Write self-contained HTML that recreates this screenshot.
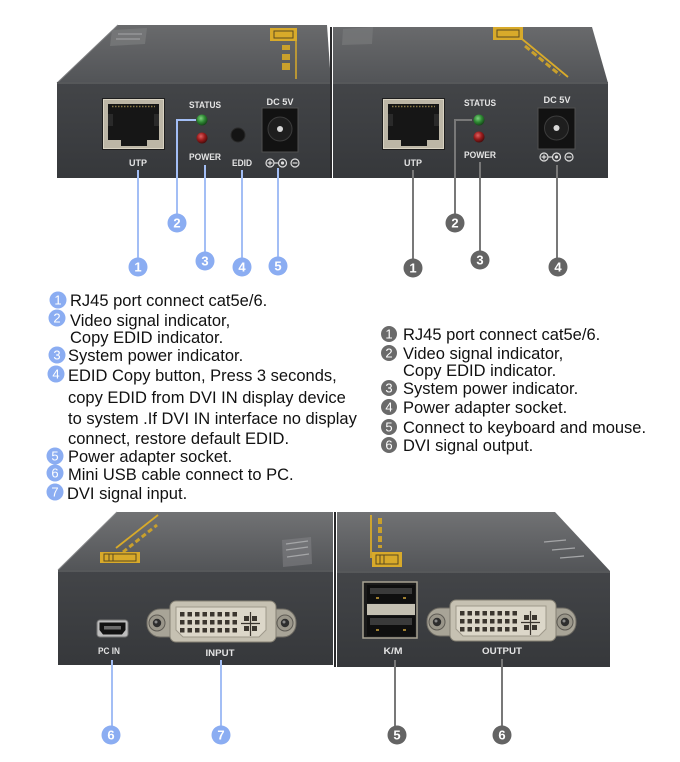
<!DOCTYPE html>
<html><head><meta charset="utf-8">
<style>
html,body{margin:0;padding:0;background:#fff;}
svg{display:block;}
.lbl{font-family:"Liberation Sans",Arial,sans-serif;font-weight:bold;fill:#e4e4e4;font-size:9px;text-anchor:middle;}
.num{font-family:"Liberation Sans",Arial,sans-serif;font-weight:bold;fill:#fff;font-size:13px;text-anchor:middle;}
.sn{font-family:"Liberation Sans",Arial,sans-serif;fill:#fff;font-size:13px;text-anchor:middle;}
.tx{font-family:"Liberation Sans",Arial,sans-serif;fill:#111;font-size:16.5px;}
</style></head>
<body>
<svg width="680" height="762" viewBox="0 0 680 762" xmlns="http://www.w3.org/2000/svg">
<defs>
<linearGradient id="topA" x1="0" y1="0" x2="0" y2="1"><stop offset="0" stop-color="#696a6c"/><stop offset="1" stop-color="#525457"/></linearGradient>
<linearGradient id="topB" x1="0" y1="0" x2="0" y2="1"><stop offset="0" stop-color="#717274"/><stop offset="1" stop-color="#535558"/></linearGradient>
<linearGradient id="front" x1="0" y1="0" x2="0" y2="1"><stop offset="0" stop-color="#434548"/><stop offset="1" stop-color="#36383b"/></linearGradient>
<radialGradient id="gLed" cx="0.4" cy="0.35" r="0.7"><stop offset="0" stop-color="#7fd27f"/><stop offset="0.5" stop-color="#2f8a34"/><stop offset="1" stop-color="#123d15"/></radialGradient>
<radialGradient id="rLed" cx="0.4" cy="0.35" r="0.7"><stop offset="0" stop-color="#e06060"/><stop offset="0.5" stop-color="#9a1c1c"/><stop offset="1" stop-color="#3d0a0a"/></radialGradient>
<g id="dvi">
  <rect x="147" y="609" width="149" height="28" rx="13" fill="#a8a497" stroke="#6f6c64" stroke-width="1"/>
  <circle cx="157" cy="623" r="8" fill="#9a968a" stroke="#5e5b54"/>
  <circle cx="157" cy="623" r="4.2" fill="#2e2e2e"/>
  <circle cx="156" cy="622" r="1.5" fill="#888"/>
  <circle cx="285" cy="623" r="8" fill="#9a968a" stroke="#5e5b54"/>
  <circle cx="285" cy="623" r="4.2" fill="#2e2e2e"/>
  <circle cx="284" cy="622" r="1.5" fill="#888"/>
  <rect x="170" y="601" width="106" height="41" rx="6" fill="#c6c1b2" stroke="#858174"/>
  <path d="M176 607 H266 V630 L259 637 H183 L176 630 Z" fill="#dcd7c9" stroke="#9e998b"/>
  <g fill="#3b362f">
    <rect x="180" y="612" width="4.5" height="4.5"/><rect x="187.5" y="612" width="4.5" height="4.5"/><rect x="195" y="612" width="4.5" height="4.5"/><rect x="202.5" y="612" width="4.5" height="4.5"/><rect x="210" y="612" width="4.5" height="4.5"/><rect x="217.5" y="612" width="4.5" height="4.5"/><rect x="225" y="612" width="4.5" height="4.5"/><rect x="232.5" y="612" width="4.5" height="4.5"/>
    <rect x="180" y="620" width="4.5" height="4.5"/><rect x="187.5" y="620" width="4.5" height="4.5"/><rect x="195" y="620" width="4.5" height="4.5"/><rect x="202.5" y="620" width="4.5" height="4.5"/><rect x="210" y="620" width="4.5" height="4.5"/><rect x="217.5" y="620" width="4.5" height="4.5"/><rect x="225" y="620" width="4.5" height="4.5"/><rect x="232.5" y="620" width="4.5" height="4.5"/>
    <rect x="180" y="628" width="4.5" height="4.5"/><rect x="187.5" y="628" width="4.5" height="4.5"/><rect x="195" y="628" width="4.5" height="4.5"/><rect x="202.5" y="628" width="4.5" height="4.5"/><rect x="210" y="628" width="4.5" height="4.5"/><rect x="217.5" y="628" width="4.5" height="4.5"/><rect x="225" y="628" width="4.5" height="4.5"/><rect x="232.5" y="628" width="4.5" height="4.5"/>
    <rect x="244" y="616" width="5" height="5"/><rect x="252" y="616" width="5" height="5"/><rect x="244" y="626" width="5" height="5"/><rect x="252" y="626" width="5" height="5"/>
  </g>
  <path d="M250.5 612 V636 M241 623.5 H260" stroke="#3b362f" stroke-width="1.2"/>
</g>
<g id="rj45">
  <rect x="102" y="98" width="63" height="52" fill="#1e1e1e"/>
  <rect x="103.5" y="99.5" width="60" height="49" fill="#bcb6a6" stroke="#d9d3c3"/>
  <rect x="108" y="104" width="51" height="36" fill="#161616"/>
  <rect x="121" y="139" width="26" height="7" fill="#161616"/>
  <path d="M112 106.5 H155" stroke="#8a7a48" stroke-width="1.5" stroke-dasharray="1.5 1.5"/>
  <rect x="108" y="114" width="5" height="12" fill="#2a2a2a"/>
  <rect x="154" y="114" width="5" height="12" fill="#2a2a2a"/>
</g>
<g id="pol">
  <circle cx="0" cy="0" r="4" fill="none" stroke="#ddd" stroke-width="1.2"/>
  <path d="M-2.4 0 H2.4 M0 -2.4 V2.4" stroke="#ddd" stroke-width="1.2"/>
  <path d="M4 0 H9" stroke="#ddd" stroke-width="1.2"/>
  <circle cx="12.5" cy="0" r="4" fill="none" stroke="#ddd" stroke-width="1.2"/>
  <circle cx="12.5" cy="0" r="1.6" fill="#ddd"/>
  <circle cx="25" cy="0" r="4" fill="none" stroke="#ddd" stroke-width="1.2"/>
  <path d="M22.6 0 H27.4" stroke="#ddd" stroke-width="1.2"/>
</g>
</defs>

<!-- ============ TOP LEFT BOX ============ -->
<polygon points="118,25 327,25 331,83 57,83" fill="url(#topA)"/>
<path d="M57 83 L118 25" stroke="#7e7f81" stroke-width="1"/>
<polygon points="112,30 147,28 145,44 110,46" fill="#78797b" opacity="0.8"/>
<path d="M118 34 H142 M116 39 H140" stroke="#949597" stroke-width="1.5"/>
<rect x="270" y="28" width="27" height="13" fill="#d8aa2a"/>
<rect x="274" y="31" width="19" height="7" fill="none" stroke="#5a4a20" stroke-width="1"/>
<path d="M296 41 V79" stroke="#d8aa2a" stroke-width="1.5"/>
<g fill="#c9a02c"><rect x="282" y="45" width="8" height="5"/><rect x="282" y="54" width="8" height="6"/><rect x="282" y="63" width="8" height="7"/></g>
<rect x="57" y="82" width="274" height="96" fill="url(#front)"/>
<path d="M57 83 H331" stroke="#5c5e61" stroke-width="1.5"/>
<use href="#rj45"/>
<text class="lbl" x="138" y="166" textLength="18" lengthAdjust="spacingAndGlyphs">UTP</text>
<text class="lbl" x="205" y="108" textLength="32" lengthAdjust="spacingAndGlyphs">STATUS</text>
<circle cx="202" cy="120" r="5.5" fill="url(#gLed)"/>
<circle cx="202" cy="138" r="5.5" fill="url(#rLed)"/>
<text class="lbl" x="205" y="160" textLength="32" lengthAdjust="spacingAndGlyphs">POWER</text>
<circle cx="238" cy="135" r="7" fill="#141414" stroke="#2a2a2a"/>
<text class="lbl" x="242" y="166" textLength="20" lengthAdjust="spacingAndGlyphs">EDID</text>
<text class="lbl" x="280" y="105" textLength="27" lengthAdjust="spacingAndGlyphs">DC 5V</text>
<rect x="262" y="108" width="36" height="44" fill="#121212" stroke="#505050"/>
<circle cx="280" cy="129" r="12" fill="#1e1e1e" stroke="#3c3c3c"/>
<circle cx="280" cy="129" r="3" fill="#d8d8d8"/>
<use href="#pol" x="270" y="163"/>

<!-- ============ TOP RIGHT BOX ============ -->
<polygon points="333,27 592,27 608,83 333,83" fill="url(#topA)"/>
<polygon points="343,29 373,27 372,44 342,45" fill="#78797b" opacity="0.7"/>
<rect x="493" y="27" width="30" height="13" fill="#d8aa2a"/>
<rect x="497" y="30" width="22" height="7" fill="none" stroke="#5a4a20" stroke-width="1"/>
<path d="M522 39 L568 77" stroke="#d8aa2a" stroke-width="1.8"/>
<path d="M525 46 L560 75" stroke="#c9a02c" stroke-width="3" stroke-dasharray="6 3"/>
<path d="M331 27 V178" stroke="#2a2a2c" stroke-width="2"/>
<rect x="333" y="82" width="275" height="96" fill="url(#front)"/>
<path d="M333 83 H608" stroke="#5c5e61" stroke-width="1.5"/>
<use href="#rj45" x="280"/>
<text class="lbl" x="413" y="166" textLength="18" lengthAdjust="spacingAndGlyphs">UTP</text>
<text class="lbl" x="480" y="106" textLength="32" lengthAdjust="spacingAndGlyphs">STATUS</text>
<circle cx="479" cy="120" r="5.5" fill="url(#gLed)"/>
<circle cx="479" cy="137" r="5.5" fill="url(#rLed)"/>
<text class="lbl" x="480" y="158" textLength="32" lengthAdjust="spacingAndGlyphs">POWER</text>
<text class="lbl" x="557" y="103" textLength="27" lengthAdjust="spacingAndGlyphs">DC 5V</text>
<rect x="538" y="108" width="37" height="41" fill="#121212" stroke="#505050"/>
<circle cx="556.5" cy="128" r="12" fill="#1e1e1e" stroke="#3c3c3c"/>
<circle cx="556.5" cy="128" r="3" fill="#d8d8d8"/>
<use href="#pol" x="544" y="157"/>

<!-- top callouts (blue) -->
<g stroke="#a3bef5" stroke-width="2" fill="none">
<path d="M138 170 V258"/>
<path d="M196 120 H177 V214"/>
<path d="M205 165 V252"/>
<path d="M242 170 V258"/>
<path d="M278 168 V257"/>
</g>
<g fill="#8badf2">
<circle cx="138" cy="267" r="9.5"/><circle cx="177" cy="223" r="9.5"/><circle cx="205" cy="261" r="9.5"/><circle cx="242" cy="267" r="9.5"/><circle cx="278" cy="266" r="9.5"/>
</g>
<text class="num" x="138" y="271.5">1</text><text class="num" x="177" y="227.5">2</text><text class="num" x="205" y="265.5">3</text><text class="num" x="242" y="271.5">4</text><text class="num" x="278" y="270.5">5</text>

<!-- top callouts (gray) -->
<g stroke="#787878" stroke-width="2" fill="none">
<path d="M413 170 V259"/>
<path d="M472 120 H455 V214"/>
<path d="M480 162 V251"/>
<path d="M557 165 V258"/>
</g>
<g fill="#646464">
<circle cx="413" cy="268" r="9.5"/><circle cx="455" cy="223" r="9.5"/><circle cx="480" cy="260" r="9.5"/><circle cx="558" cy="267" r="9.5"/>
</g>
<text class="num" x="413" y="272.5">1</text><text class="num" x="455" y="227.5">2</text><text class="num" x="480" y="264.5">3</text><text class="num" x="558" y="271.5">4</text>

<!-- ============ LEFT LIST ============ -->
<g fill="#8badf2">
<circle cx="58" cy="300" r="8.5"/><circle cx="57" cy="318" r="8.5"/><circle cx="57" cy="355" r="8.5"/><circle cx="56" cy="374" r="8.5"/><circle cx="55" cy="456" r="8.5"/><circle cx="55" cy="473" r="8.5"/><circle cx="55" cy="492" r="8.5"/>
</g>
<text class="sn" x="58" y="304.5">1</text><text class="sn" x="57" y="322.5">2</text><text class="sn" x="57" y="359.5">3</text><text class="sn" x="56" y="378.5">4</text><text class="sn" x="55" y="460.5">5</text><text class="sn" x="55" y="477.5">6</text><text class="sn" x="55" y="496.5">7</text>
<text class="tx" x="70" y="306">RJ45 port connect cat5e/6.</text>
<text class="tx" x="70" y="326">Video signal indicator,</text>
<text class="tx" x="70" y="343">Copy EDID indicator.</text>
<text class="tx" x="68" y="361">System power indicator.</text>
<text class="tx" x="68" y="381">EDID Copy button, Press 3 seconds,</text>
<text class="tx" x="68" y="403">copy EDID from DVI IN display device</text>
<text class="tx" x="68" y="424">to system .If DVI IN interface no display</text>
<text class="tx" x="68" y="444">connect, restore default EDID.</text>
<text class="tx" x="68" y="462">Power adapter socket.</text>
<text class="tx" x="68" y="480">Mini USB cable connect to PC.</text>
<text class="tx" x="67" y="499">DVI signal input.</text>

<!-- ============ RIGHT LIST ============ -->
<g fill="#6a6a6a">
<circle cx="389" cy="334" r="8"/><circle cx="389" cy="353" r="8"/><circle cx="389" cy="388" r="8"/><circle cx="389" cy="407" r="8"/><circle cx="389" cy="427" r="8"/><circle cx="389" cy="445" r="8"/>
</g>
<text class="sn" x="389" y="338.5">1</text><text class="sn" x="389" y="357.5">2</text><text class="sn" x="389" y="392.5">3</text><text class="sn" x="389" y="411.5">4</text><text class="sn" x="389" y="431.5">5</text><text class="sn" x="389" y="449.5">6</text>
<text class="tx" x="403" y="340">RJ45 port connect cat5e/6.</text>
<text class="tx" x="403" y="359">Video signal indicator,</text>
<text class="tx" x="403" y="376">Copy EDID indicator.</text>
<text class="tx" x="403" y="394">System power indicator.</text>
<text class="tx" x="403" y="413">Power adapter socket.</text>
<text class="tx" x="403" y="433">Connect to keyboard and mouse.</text>
<text class="tx" x="403" y="451">DVI signal output.</text>

<!-- ============ BOTTOM LEFT BOX ============ -->
<polygon points="117,512 333,512 333,570 58,570" fill="url(#topB)"/>
<path d="M58 570 L117 512" stroke="#88898b" stroke-width="1"/>
<path d="M116 548 L158 515" stroke="#d8aa2a" stroke-width="1.8"/>
<path d="M123 552 L157 525" stroke="#c9a02c" stroke-width="3" stroke-dasharray="5 3"/>
<rect x="100" y="552" width="40" height="11" fill="#d8aa2a"/>
<rect x="104" y="554" width="32" height="7" fill="none" stroke="#5a4a20" stroke-width="1"/>
<path d="M109 554 V561 M113 554 V561" stroke="#5a4a20" stroke-width="1"/>
<polygon points="282,540 311,537 312,564 283,567" fill="#85868a" opacity="0.5"/>
<path d="M286 544 L308 541 M286 550 L308 547 M287 557 L309 554" stroke="#a5a6a8" stroke-width="1.3"/>
<rect x="58" y="570" width="275" height="95" fill="url(#front)"/>
<path d="M58 571 H333" stroke="#5c5e61" stroke-width="1.5"/>
<rect x="97" y="620" width="31" height="17" rx="3" fill="#bdbdbd" stroke="#777"/>
<path d="M99.5 622.5 H125.5 V630 L122 634.5 H103 L99.5 630 Z" fill="#121212"/>
<rect x="104" y="626" width="17" height="3.5" fill="#6a6a6a"/>
<text class="lbl" x="109" y="654" textLength="22" lengthAdjust="spacingAndGlyphs">PC IN</text>
<use href="#dvi"/>
<text class="lbl" x="220" y="656" textLength="29" lengthAdjust="spacingAndGlyphs">INPUT</text>

<!-- ============ BOTTOM RIGHT BOX ============ -->
<polygon points="337,512 555,512 610,571 337,571" fill="url(#topB)"/>
<path d="M371 515 V558" stroke="#d8aa2a" stroke-width="1.8"/>
<path d="M380 518 V548" stroke="#c9a02c" stroke-width="4" stroke-dasharray="6 3"/>
<rect x="372" y="552" width="30" height="15" fill="#d8aa2a"/>
<rect x="376" y="555" width="22" height="9" fill="none" stroke="#5a4a20" stroke-width="1"/>
<path d="M380 555 V564 M384 555 V564" stroke="#5a4a20" stroke-width="1"/>
<path d="M544 542 L566 540 M552 550 L575 548 M560 558 L584 556" stroke="#a5a6a8" stroke-width="1.3"/>
<path d="M335 512 V667" stroke="#2a2a2c" stroke-width="2"/>
<rect x="337" y="571" width="273" height="96" fill="url(#front)"/>
<path d="M337 572 H610" stroke="#5c5e61" stroke-width="1.5"/>
<rect x="363" y="582" width="54" height="56" fill="#1a1a1a" stroke="#a7a292" stroke-width="1.5"/>
<rect x="367" y="585" width="48" height="18" fill="#0f0f0f"/>
<rect x="370" y="588" width="42" height="6" fill="#3a3a3a"/>
<rect x="367" y="604" width="48" height="11" fill="#c4c0b2"/>
<rect x="367" y="616" width="48" height="20" fill="#0f0f0f"/>
<rect x="370" y="618" width="42" height="7" fill="#3a3a3a"/>
<g fill="#a08030"><rect x="376" y="597" width="3" height="2"/><rect x="403" y="597" width="3" height="2"/><rect x="376" y="629" width="3" height="2"/><rect x="403" y="629" width="3" height="2"/></g>
<text class="lbl" x="393" y="654" textLength="19" lengthAdjust="spacingAndGlyphs">K/M</text>
<use href="#dvi" x="280" y="-1"/>
<text class="lbl" x="502" y="654" textLength="40" lengthAdjust="spacingAndGlyphs">OUTPUT</text>

<!-- bottom callouts -->
<g stroke="#a3bef5" stroke-width="2" fill="none">
<path d="M112 660 V726"/>
<path d="M221 660 V726"/>
</g>
<g fill="#8badf2"><circle cx="111" cy="735" r="9.5"/><circle cx="221" cy="735" r="9.5"/></g>
<text class="num" x="111" y="739.5">6</text><text class="num" x="221" y="739.5">7</text>
<g stroke="#787878" stroke-width="2" fill="none">
<path d="M395 660 V726"/>
<path d="M502 659 V726"/>
</g>
<g fill="#646464"><circle cx="397" cy="735" r="9.5"/><circle cx="502" cy="735" r="9.5"/></g>
<text class="num" x="397" y="739.5">5</text><text class="num" x="502" y="739.5">6</text>
</svg>
</body></html>
